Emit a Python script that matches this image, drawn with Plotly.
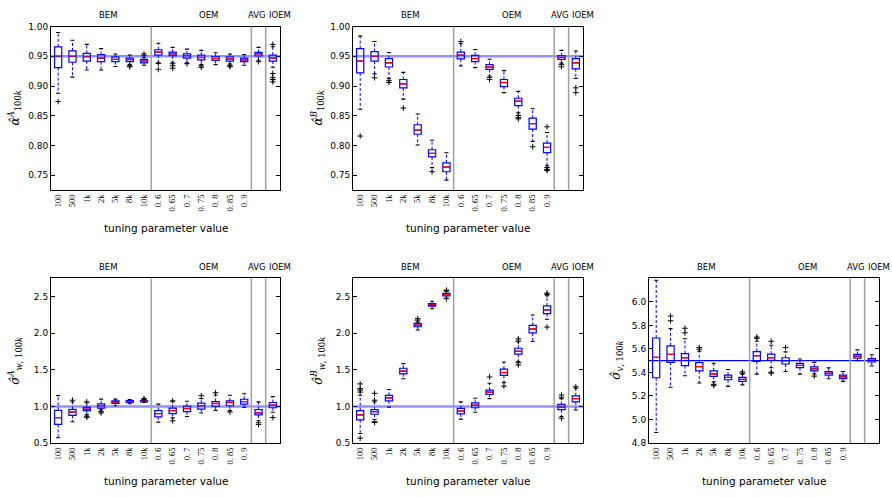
import plotly.graph_objects as go

# ---- categories -------------------------------------------------------------
POSITIONS = list(range(16))          # 7 BEM, 7 OEM, AVG, IOEM
TICK_LABELS = ["100", "500", "1k", "2k", "5k", "8k", "10k",
               "0. 6", "0. 65", "0. 7", "0. 75", "0. 8", "0. 85", "0. 9"]
GROUP_LABELS = ["BEM", "OEM", "AVG", "IOEM"]
GROUP_LABEL_X = [3.5, 10.5, 13.9, 15.5]
SEPARATORS = [6.5, 13.5, 14.5]

# ---- panel 1 : alpha^A -------------------------------------------------------
AA_Q1 = [0.931, 0.940, 0.942, 0.941, 0.941, 0.941, 0.939, 0.952, 0.951, 0.947, 0.944, 0.943, 0.942, 0.941, 0.9505, 0.942]
AA_MED = [0.950, 0.950, 0.9495, 0.947, 0.945, 0.9445, 0.942, 0.957, 0.954, 0.951, 0.948, 0.946, 0.9455, 0.944, 0.954, 0.947]
AA_Q3 = [0.966, 0.959, 0.955, 0.953, 0.949, 0.947, 0.945, 0.961, 0.957, 0.954, 0.952, 0.9495, 0.949, 0.947, 0.9565, 0.952]
AA_LO = [0.888, 0.915, 0.927, 0.927, 0.933, 0.936, 0.935, 0.939, 0.940, 0.939, 0.936, 0.936, 0.937, 0.935, 0.9435, 0.9315]
AA_HI = [0.990, 0.977, 0.970, 0.963, 0.954, 0.952, 0.948, 0.972, 0.965, 0.962, 0.960, 0.956, 0.954, 0.953, 0.965, 0.966]
AA_OUT = [[0.874], [], [], [], [], [0.934, 0.9325], [0.951, 0.954], [0.938, 0.928],
          [0.9375, 0.934, 0.930], [0.9375], [0.934, 0.9315], [], [0.935, 0.9325], [], [0.941],
          [0.970, 0.921, 0.914, 0.911, 0.907]]

# ---- panel 2 : alpha^B -------------------------------------------------------
AB_Q1 = [0.922, 0.942, 0.932, 0.897, 0.819, 0.781, 0.756, 0.9456, 0.941, 0.928, 0.899, 0.867, 0.8277, 0.788, 0.945, 0.929]
AB_MED = [0.942, 0.950, 0.939, 0.9036, 0.826, 0.787, 0.764, 0.952, 0.946, 0.932, 0.906, 0.8747, 0.837, 0.797, 0.948, 0.939]
AB_Q3 = [0.963, 0.958, 0.946, 0.911, 0.835, 0.793, 0.771, 0.957, 0.9516, 0.936, 0.911, 0.8795, 0.846, 0.804, 0.951, 0.946]
AB_LO = [0.861, 0.9205, 0.913, 0.878, 0.801, 0.763, 0.742, 0.9336, 0.931, 0.917, 0.889, 0.855, 0.807, 0.766, 0.9385, 0.913]
AB_HI = [0.984, 0.975, 0.9565, 0.923, 0.853, 0.809, 0.788, 0.971, 0.9615, 0.945, 0.926, 0.891, 0.862, 0.822, 0.960, 0.959]
AB_OUT = [[0.816], [0.914], [0.909, 0.906], [0.863], [], [0.756], [], [0.9746], [],
          [0.9145, 0.911], [], [0.8506, 0.847, 0.845], [0.798], [0.8315, 0.763, 0.760, 0.758],
          [0.936, 0.9325], [0.897, 0.889]]

# ---- panel 3 : sigma_w^A -----------------------------------------------------
SA_Q1 = [0.754, 0.879, 0.942, 0.978, 1.040, 1.054, 1.0625, 0.857, 0.902, 0.929, 0.964, 1.000, 1.009, 1.031, 0.884, 0.982]
SA_MED = [0.848, 0.924, 0.964, 1.009, 1.058, 1.067, 1.071, 0.902, 0.942, 0.969, 1.009, 1.040, 1.054, 1.067, 0.911, 1.018]
SA_Q3 = [0.946, 0.960, 0.987, 1.036, 1.076, 1.080, 1.080, 0.942, 0.978, 1.004, 1.045, 1.067, 1.076, 1.098, 0.955, 1.054]
SA_LO = [0.571, 0.790, 0.888, 0.955, 1.009, 1.036, 1.054, 0.786, 0.844, 0.862, 0.911, 0.946, 0.942, 0.987, 0.804, 0.920]
SA_HI = [1.147, 1.060, 1.050, 1.100, 1.100, 1.094, 1.089, 1.031, 1.067, 1.071, 1.107, 1.156, 1.152, 1.174, 1.062, 1.134]
SA_OUT = [[], [1.085], [1.062, 0.866, 0.850], [0.933, 0.911], [], [], [1.100, 1.105], [],
          [1.076, 0.804], [], [1.147], [1.1875], [0.924], [], [0.777, 0.754], [0.848]]

# ---- panel 4 : sigma_w^B -----------------------------------------------------
SB_Q1 = [0.817, 0.893, 1.076, 1.446, 2.089, 2.370, 2.509, 0.897, 0.982, 1.165, 1.424, 1.714, 2.004, 2.268, 0.955, 1.0625]
SB_MED = [0.884, 0.929, 1.116, 1.482, 2.112, 2.388, 2.527, 0.9375, 1.018, 1.196, 1.464, 1.754, 2.058, 2.321, 0.991, 1.107]
SB_Q3 = [0.942, 0.955, 1.152, 1.522, 2.134, 2.406, 2.545, 0.973, 1.049, 1.223, 1.509, 1.795, 2.107, 2.375, 1.027, 1.143]
SB_LO = [0.629, 0.821, 0.991, 1.379, 2.045, 2.335, 2.482, 0.826, 0.920, 1.107, 1.326, 1.612, 1.888, 2.192, 0.862, 0.951]
SB_HI = [1.152, 1.0625, 1.232, 1.585, 2.156, 2.437, 2.571, 1.0625, 1.112, 1.317, 1.607, 1.884, 2.250, 2.513, 1.107, 1.250]
SB_OUT = [[1.308, 1.245, 1.223, 1.196, 0.567], [1.179, 1.085, 0.790, 0.780], [], [], [2.20, 2.18], [],
          [2.589, 2.58, 2.473], [], [], [1.402], [1.277], [1.924, 1.893, 1.598, 1.567], [],
          [2.549, 2.531, 2.085], [1.156, 1.125, 0.839], [1.268]]

# ---- panel 5 : sigma_v -------------------------------------------------------
SV_Q1 = [5.355, 5.486, 5.458, 5.414, 5.366, 5.338, 5.324, 5.494, 5.503, 5.472, 5.441, 5.414, 5.377, 5.347, 5.522, 5.489]
SV_MED = [5.528, 5.553, 5.525, 5.450, 5.388, 5.358, 5.341, 5.542, 5.525, 5.500, 5.461, 5.430, 5.394, 5.363, 5.539, 5.503]
SV_Q3 = [5.693, 5.626, 5.561, 5.483, 5.414, 5.377, 5.358, 5.578, 5.556, 5.525, 5.478, 5.447, 5.408, 5.377, 5.553, 5.517]
SV_LO = [4.889, 5.274, 5.372, 5.310, 5.320, 5.282, 5.294, 5.386, 5.440, 5.408, 5.386, 5.388, 5.347, 5.324, 5.500, 5.455]
SV_HI = [6.184, 5.773, 5.687, 5.581, 5.478, 5.425, 5.386, 5.665, 5.631, 5.575, 5.514, 5.486, 5.439, 5.408, 5.592, 5.550]
SV_OUT = [[], [5.879, 5.840], [5.776, 5.737], [5.612, 5.598], [5.299, 5.288], [], [5.405, 5.394],
          [5.701, 5.690], [5.665, 5.402, 5.394], [5.612], [], [5.369], [], [], [], []]

# ---- axis settings -----------------------------------------------------------
Y_TITLES = ["<i>α̂</i><sup><i>A</i></sup><sub>100<i>k</i></sub>",
            "<i>α̂</i><sup><i>B</i></sup><sub>100<i>k</i></sub>",
            "<i>σ̂</i><sup><i>A</i></sup><sub><i>w</i>, 100<i>k</i></sub>",
            "<i>σ̂</i><sup><i>B</i></sup><sub><i>w</i>, 100<i>k</i></sub>",
            "<i>σ̂</i><sub><i>v</i>, 100<i>k</i></sub>"]
Y_RANGES = [[0.725, 1.0], [0.725, 1.0], [0.5, 2.75], [0.5, 2.75], [4.8, 6.2]]
Y_TICKS = [[0.75, 0.80, 0.85, 0.90, 0.95, 1.00], [0.75, 0.80, 0.85, 0.90, 0.95, 1.00],
           [0.5, 1.0, 1.5, 2.0, 2.5], [0.5, 1.0, 1.5, 2.0, 2.5],
           [4.8, 5.0, 5.2, 5.4, 5.6, 5.8, 6.0]]
Y_FORMATS = [".2f", ".2f", ".1f", ".1f", ".1f"]
TRUE_VALUES = [0.95, 0.95, 1.0, 1.0, 5.5]

PANELS = [
    (AA_Q1, AA_MED, AA_Q3, AA_LO, AA_HI, AA_OUT),
    (AB_Q1, AB_MED, AB_Q3, AB_LO, AB_HI, AB_OUT),
    (SA_Q1, SA_MED, SA_Q3, SA_LO, SA_HI, SA_OUT),
    (SB_Q1, SB_MED, SB_Q3, SB_LO, SB_HI, SB_OUT),
    (SV_Q1, SV_MED, SV_Q3, SV_LO, SV_HI, SV_OUT),
]

W, H = 892, 497
# axes rectangles in pixels: (left, right, top, bottom)
RECTS = [(51, 280, 22, 189), (353, 583, 22, 189),
         (51, 280, 279, 447), (353, 583, 279, 447), (649, 879, 279, 447)]
YTITLE_X = [15, 318, 15, 318, 617]

BOX_W = 0.5
CAP_HALF = 0.14
BLUE = "#0000ff"


def segments(xs_left, xs_right, ys):
    sx, sy = [], []
    for a, b, y in zip(xs_left, xs_right, ys):
        sx += [a, b, None]
        sy += [y, y, None]
    return sx, sy


fig = go.Figure()
layout_axes = {}
shapes = []
annotations = []

for k, ((q1, med, q3, lo, hi, out), rect) in enumerate(zip(PANELS, RECTS), start=1):
    xa = "x" if k == 1 else f"x{k}"
    ya = "y" if k == 1 else f"y{k}"
    left, right, top, bottom = rect

    # dashed whiskers
    wx, wy = [], []
    for p, a, b, c, d in zip(POSITIONS, q1, q3, lo, hi):
        wx += [p, p, None, p, p, None]
        wy += [b, d, None, a, c, None]
    fig.add_trace(go.Scatter(x=wx, y=wy, mode="lines", xaxis=xa, yaxis=ya,
                             line=dict(color=BLUE, width=1, dash="3px,2px"),
                             hoverinfo="skip", showlegend=False))

    # boxes
    fig.add_trace(go.Box(x=POSITIONS, q1=q1, median=med, q3=q3,
                         lowerfence=q1, upperfence=q3, width=BOX_W,
                         whiskerwidth=0, boxpoints=False,
                         fillcolor="white", line=dict(color=BLUE, width=1.2),
                         xaxis=xa, yaxis=ya, showlegend=False))

    # whisker caps
    cl = [p - CAP_HALF for p in POSITIONS]
    cr = [p + CAP_HALF for p in POSITIONS]
    cx1, cy1 = segments(cl, cr, lo)
    cx2, cy2 = segments(cl, cr, hi)
    fig.add_trace(go.Scatter(x=cx1 + cx2, y=cy1 + cy2, mode="lines", xaxis=xa, yaxis=ya,
                             line=dict(color="black", width=1.1),
                             hoverinfo="skip", showlegend=False))

    # medians
    ml = [p - BOX_W / 2 for p in POSITIONS]
    mr = [p + BOX_W / 2 for p in POSITIONS]
    mx, my = segments(ml, mr, med)
    fig.add_trace(go.Scatter(x=mx, y=my, mode="lines", xaxis=xa, yaxis=ya,
                             line=dict(color="red", width=1.3),
                             hoverinfo="skip", showlegend=False))

    # outliers
    ox, oy = [], []
    for p, vals in zip(POSITIONS, out):
        ox += [p] * len(vals)
        oy += vals
    fig.add_trace(go.Scatter(x=ox, y=oy, mode="markers", xaxis=xa, yaxis=ya,
                             marker=dict(symbol="cross-thin", size=4,
                                         line=dict(color="black", width=1)),
                             hoverinfo="skip", showlegend=False))

    xkey = "xaxis" if k == 1 else f"xaxis{k}"
    ykey = "yaxis" if k == 1 else f"yaxis{k}"
    layout_axes[xkey] = dict(
        domain=[left / W, right / W], anchor=ya, range=[-0.5, 15.5],
        tickmode="array", tickvals=POSITIONS[:len(TICK_LABELS)], ticktext=TICK_LABELS,
        tickangle=-90, ticks="", showgrid=False, zeroline=False,
        showline=True, linecolor="black", linewidth=1, mirror=True,
        tickfont=dict(family="Liberation Serif", size=8.5, color="black"),
    )
    layout_axes[ykey] = dict(
        domain=[1 - bottom / H, 1 - top / H], anchor=xa, range=Y_RANGES[k - 1],
        tickmode="array", tickvals=Y_TICKS[k - 1], tickformat=Y_FORMATS[k - 1],
        ticks="inside", ticklen=4, tickcolor="black", showgrid=False, zeroline=False,
        showline=True, linecolor="black", linewidth=1, mirror="ticks",
        tickfont=dict(family="DejaVu Sans", size=9, color="black"),
    )

    # reference line at the true value
    if k < 5:
        ref_line = dict(color="rgba(40,40,255,0.5)", width=2.6)
    else:
        ref_line = dict(color=BLUE, width=1.2)
    shapes.append(dict(type="line", xref=f"{xa} domain", yref=ya, x0=0, x1=1,
                       y0=TRUE_VALUES[k - 1], y1=TRUE_VALUES[k - 1],
                       line=ref_line, layer="above"))
    # group separators
    for s in SEPARATORS:
        shapes.append(dict(type="line", xref=xa, yref=f"{ya} domain", x0=s, x1=s,
                           y0=0, y1=1, line=dict(color="#a0a0a0", width=1.5),
                           layer="above"))

    # group labels above the axes
    for lab, gx in zip(GROUP_LABELS, GROUP_LABEL_X):
        annotations.append(dict(text=lab, x=gx, xref=xa, y=1 - (top - 12) / H,
                                yref="paper", showarrow=False, xanchor="center",
                                yanchor="middle",
                                font=dict(family="DejaVu Sans", size=8.5, color="black")))
    # x axis title
    annotations.append(dict(text="tuning parameter value", x=(left + right) / 2 / W,
                            xref="paper", y=1 - (bottom + 39) / H, yref="paper",
                            showarrow=False, xanchor="center", yanchor="middle",
                            font=dict(family="DejaVu Sans", size=10.5, color="black")))
    # y axis title
    annotations.append(dict(text=Y_TITLES[k - 1], x=YTITLE_X[k - 1] / W, xref="paper",
                            y=1 - (top + bottom) / 2 / H, yref="paper", textangle=-90,
                            showarrow=False, xanchor="center", yanchor="middle",
                            font=dict(family="DejaVu Serif", size=12, color="black")))

fig.update_layout(
    width=W, height=H, margin=dict(l=0, r=0, t=0, b=0),
    paper_bgcolor="white", plot_bgcolor="white",
    showlegend=False, shapes=shapes, annotations=annotations,
    **layout_axes,
)

fig.write_html("out.html")
